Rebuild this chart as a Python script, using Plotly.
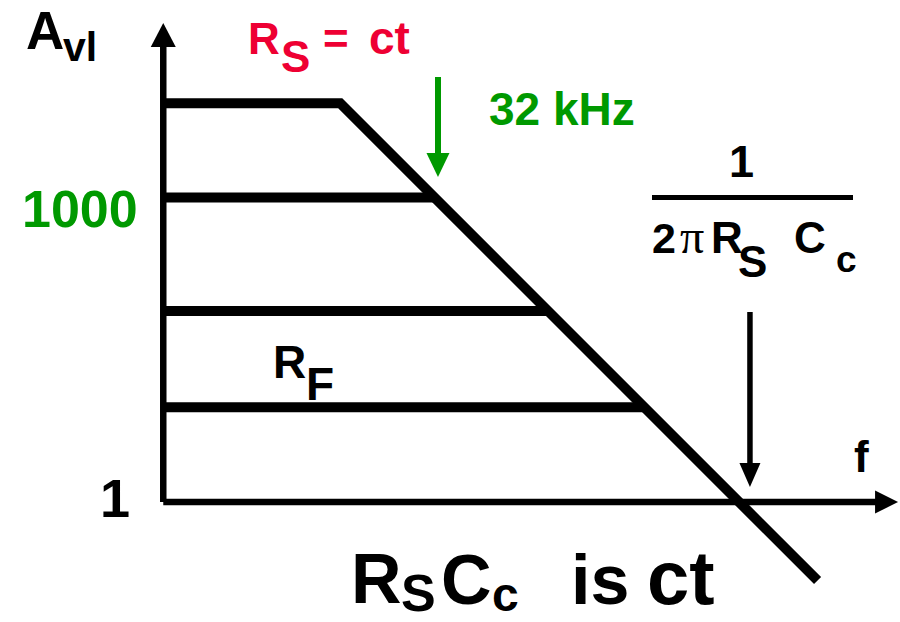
import numpy as np
import plotly.graph_objects as go

# ---- data (log-log asymptotic gain plot) ----
gbw = 32e6                      # Hz, gain-bandwidth product (RS*Cc constant)
f_min = 68                      # Hz, left edge (vertical axis position)
plateau_gain = [8500, 1000, 76, 8.6]   # closed-loop gains for several RF
f_end = 1.9e8                   # Hz, end of the -20 dB/dec line
f_axis_tip = 1.18e9             # Hz, tip of frequency axis arrow
gain_axis_tip = 52400           # tip of gain axis arrow
f_marker_32k = 34.6e3           # green arrow position (32 kHz corner)
green_arrow_gain = [15400, 1592]
f_marker_unity = 4.1e7          # black arrow position (unity-gain crossing)
black_arrow_gain = [74.5, 1.41]

W, H = 900, 622
xr = [0.224, 9.091]
yr = [-1.182, 4.946]

fig = go.Figure()

def line(xs, ys, width, color="black"):
    fig.add_trace(go.Scatter(x=xs, y=ys, mode="lines",
                             line=dict(color=color, width=width),
                             hoverinfo="skip", showlegend=False))

# axes
line([f_min, f_min], [1, gain_axis_tip / 1.6], 6.5)
line([f_min, f_axis_tip / 1.6], [1, 1], 6.5)

# top plateau + rolloff
A0 = plateau_gain[0]
line([f_min, gbw / A0, f_end], [A0, A0, gbw / f_end], 10)
# other plateaus
for A in plateau_gain[1:]:
    line([f_min, gbw / A], [A, A], 10)

# arrows shafts
line([f_marker_32k, f_marker_32k], [green_arrow_gain[0], green_arrow_gain[1] * 1.6], 6, "#009900")
line([f_marker_unity, f_marker_unity], [black_arrow_gain[0], black_arrow_gain[1] * 1.6], 5.5)

def head(xa, ya, direction, length, half, color="black"):
    if direction == "up":
        p = f"M0,0 L{-half},{-length} L{half},{-length} Z"
    elif direction == "down":
        p = f"M0,0 L{-half},{length} L{half},{length} Z"
    else:  # right
        p = f"M0,0 L{-length},{half} L{-length},{-half} Z"
    fig.add_shape(type="path", xref="x", yref="y", xsizemode="pixel", ysizemode="pixel",
                  xanchor=xa, yanchor=ya, path=p, fillcolor=color,
                  line=dict(color=color, width=0))

head(f_min, gain_axis_tip, "up", 24, 12.5)
head(f_axis_tip, 1, "right", 23, 11.5)
head(f_marker_32k, green_arrow_gain[1], "down", 24, 11.5, "#009900")
head(f_marker_unity, black_arrow_gain[1], "down", 24, 10.5)

# fraction bar
fig.add_shape(type="line", xref="paper", yref="paper",
              x0=652 / W, x1=853 / W, y0=1 - 197.5 / H, y1=1 - 197.5 / H,
              line=dict(color="black", width=5))

FONT = "Liberation Sans, Arial, sans-serif"

def txt(s, xc, base, size, color="black", family=FONT, weight="bold"):
    yc = base - 0.3465 * size
    fig.add_annotation(text=s, x=xc / W, y=1 - yc / H, xref="paper", yref="paper",
                       xanchor="center", yanchor="middle", showarrow=False,
                       borderpad=0, borderwidth=0,
                       font=dict(family=family, size=size, color=color, weight=weight))

RED = "#ee0033"
GREEN = "#009900"

txt("A", 45, 48.5, 53)
txt("vl", 80, 61, 41)
txt("R", 264, 54, 44, RED)
txt("S", 295, 72, 44, RED)
txt("=", 335.5, 54, 44, RED)
txt("ct", 389, 54, 46, RED)
txt("32 kHz", 562, 125, 46, GREEN)
txt("1000", 80, 227, 52, GREEN)
txt("1", 741, 177, 45)
txt("2", 664, 253, 43)
txt("π", 692, 253, 48, family="Liberation Serif, serif", weight="normal")
txt("R", 727, 253, 44)
txt("S", 752, 277, 44)
txt("C", 810, 253, 44)
txt("c", 846, 272.5, 37)
txt("R", 289, 378, 46)
txt("F", 320, 400, 46)
txt("1", 115, 517, 54)
txt("f", 861.5, 472, 44)
txt("R", 376, 603, 70)
txt("S", 418.5, 611, 52)
txt("C", 467, 604, 70)
txt("c", 505, 611, 48)
txt("is", 600, 604, 70)
txt("ct", 681, 604, 76)

fig.update_layout(
    width=W, height=H,
    margin=dict(l=0, r=0, t=0, b=0, pad=0),
    paper_bgcolor="white", plot_bgcolor="white",
    xaxis=dict(type="log", range=xr, visible=False, fixedrange=True),
    yaxis=dict(type="log", range=yr, visible=False, fixedrange=True),
    showlegend=False,
)

fig.write_html("out.html", config={"displayModeBar": False},
               post_script="document.body.style.margin='0px';document.body.style.overflow='hidden';")
